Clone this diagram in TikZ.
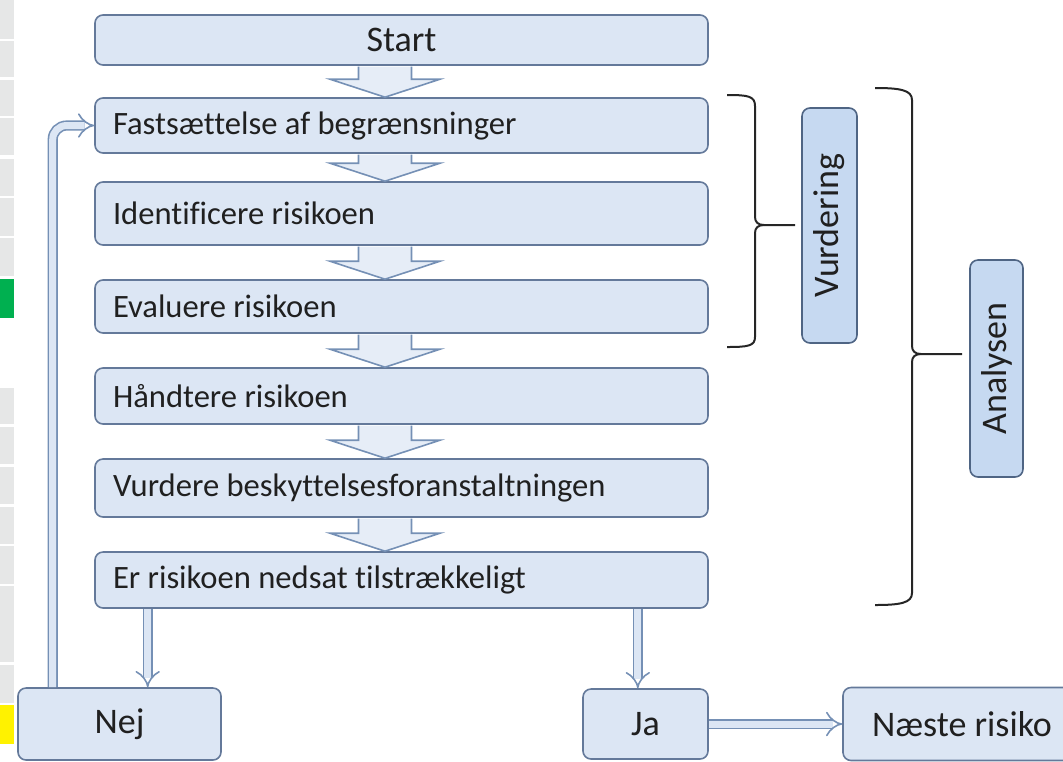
\documentclass[tikz,border=0pt]{standalone}
\usepackage{fontspec}
\setmainfont{Carlito}[Ligatures={NoCommon}]
\usetikzlibrary{arrows.meta,calc}
\definecolor{boxfill}{HTML}{DCE6F4}
\definecolor{boxline}{HTML}{64799A}
\definecolor{tagfill}{HTML}{C6D9F1}
\definecolor{tagline}{HTML}{4F6584}
\definecolor{arrowline}{HTML}{7590B5}
\definecolor{textcol}{HTML}{202020}
\definecolor{stripgray}{HTML}{E6E7E7}
\definecolor{stripgreen}{HTML}{00B050}
\tikzset{
  box/.style={draw=boxline, fill=boxfill, line width=0.8pt, rounded corners=4pt,
    text=textcol, inner xsep=9pt, inner ysep=0pt, font=\fontsize{16.3}{19}\selectfont},
  stepbox/.style={box, text width=288.5pt, align=flush left},
  endbox/.style={box, align=center, font=\fontsize{18}{21}\selectfont},
  tagbox/.style={box, draw=tagline, fill=tagfill, rotate=90, font=\fontsize{18}{21}\selectfont},
  blockarrow/.style={draw=arrowline, fill=boxfill!70!white, line width=0.8pt, line join=miter},
  dblarrow/.style={draw=arrowline, double=boxfill, double distance=3.5pt, line width=0.8pt, -{Implies}},
  brace/.style={draw=black!85, line width=1pt},
}
\begin{document}
\begin{tikzpicture}[x=0.5pt,y=-0.5pt]
\useasboundingbox (0,0) rectangle (1063,761);
\clip (0,0) rectangle (1063,761);

% sheet edge on the left
\foreach \ya/\yb in {0/39, 41/77, 80/116, 118/155, 159/196, 198/236, 238/276,
    388/424, 427/464, 467/504, 507/544, 546/584, 586/662, 665/703}
  \fill[stripgray] (0,\ya) rectangle (14,\yb);
\fill[stripgreen] (0,279) rectangle (14,318);
\fill[yellow] (0,705) rectangle (14,744);

% the steps
\node[endbox, minimum width=306.5pt, minimum height=25pt] (start) at (401.5,40) {Start};
\node[stepbox, minimum height=27.5pt] (fast) at (401.5,125.5) {Fastsættelse af begrænsninger};
\node[stepbox, minimum height=31.5pt] (ident) at (401.5,213.5) {Identificere risikoen};
\node[stepbox, minimum height=26.5pt] (eval) at (401.5,306.5) {Evaluere risikoen};
\node[stepbox, minimum height=28pt] (handle) at (401.5,396) {Håndtere risikoen};
\node[stepbox, minimum height=29pt] (check) at (401.5,488) {Vurdere beskyttelsesforanstaltningen};
\node[stepbox, minimum height=28pt] (decide) at (401.5,580) {Er risikoen nedsat tilstrækkeligt};

% answers
\node[endbox, minimum width=101.5pt, minimum height=36pt] (nej) at (119.5,724) {Nej};
\node[endbox, minimum width=62.5pt, minimum height=35pt] (ja) at (645.5,724) {Ja};
\node[endbox, minimum width=119pt, minimum height=36.5pt] (next) at (962,724) {Næste risiko};

% groups
\node[tagbox, minimum width=117.5pt, minimum height=27.5pt] (vurd) at (829.5,225.5) {Vurdering};
\node[tagbox, minimum width=108.5pt, minimum height=26.5pt] (anal) at (996.5,368.5) {Analysen};

% wide arrows down the column
\foreach \a/\b in {start/fast, fast/ident, ident/eval, eval/handle, handle/check, check/decide} {
  \coordinate (atip) at ($(\b.north)+(-16.5,0)$);
  \coordinate (abase) at ($(atip)+(0,-18)$);
  \coordinate (atop) at (atip |- \a.south);
  \draw[blockarrow] ($(atop)+(-26.5,0.8)$) -- ($(abase)+(-26.5,0)$) -- ($(abase)+(-55,0)$)
    -- (atip) -- ($(abase)+(55,0)$) -- ($(abase)+(26.5,0)$) -- ($(atop)+(26.5,0.8)$);
}

% yes / no
\coordinate (nejin) at ($(decide.south west)+(53.5,0)$);
\coordinate (jain) at ($(decide.south east)+(-71,0)$);
\coordinate (loopout) at ($(nej.north west)+(35.5,0)$);
\draw[dblarrow] (nejin) -- (nejin |- nej.north);
\draw[dblarrow] (jain) -- (jain |- ja.north);
\draw[dblarrow] (ja.east) -- (next.west);
\draw[dblarrow, rounded corners=7pt] (loopout) |- (fast.west);

% braces
\draw[brace] (727,95) .. controls (748,95) and (755,96) .. (755,106) -- (755,217)
  .. controls (755,222) and (758,225) .. (764,225) -- (795,225);
\draw[brace] (764,225) .. controls (758,225) and (755,228) .. (755,233) -- (755,337)
  .. controls (755,346) and (748,347) .. (727,347);
\draw[brace] (875,88) .. controls (900,88) and (912,90) .. (912,100) -- (912,346)
  .. controls (912,351) and (915,354) .. (921,354) -- (962,354);
\draw[brace] (921,354) .. controls (915,354) and (912,357) .. (912,362) -- (912,593)
  .. controls (912,603) and (900,605) .. (875,605);
\end{tikzpicture}
\end{document}
